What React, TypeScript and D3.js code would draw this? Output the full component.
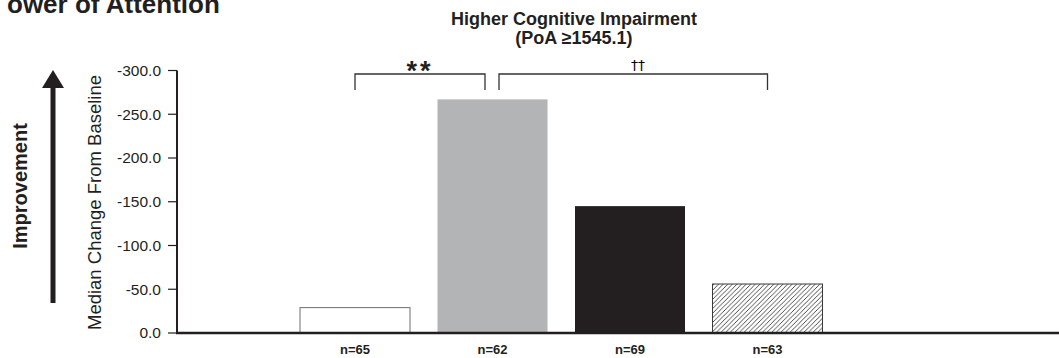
import React from "react";
import * as d3 from "d3";

const categories = ["A", "B", "C", "D"];
const values = [29, 267, 145, 56];
const nLabels = ["n=65", "n=62", "n=69", "n=63"];
const tickValues = [0, 50, 100, 150, 200, 250, 300];
const fills = ["#ffffff", "#b3b4b6", "#231f20", "url(#hatch)"];
const strokes = ["#6d6e70", "none", "none", "#3a3a3a"];

const W = 1059;
const H = 358;
const dark = "#231f20";
const font = "'Liberation Sans', Arial, Helvetica, sans-serif";

export default function App() {
  const x = d3
    .scaleBand<string>()
    .domain(categories)
    .range([286.25, 836.25])
    .paddingInner(0.2)
    .paddingOuter(0.1);
  const y = d3.scaleLinear().domain([0, 300]).range([333, 70.5]);
  const cx = (i: number) => (x(categories[i]) as number) + x.bandwidth() / 2;
  const axisX = 177;

  const brTop = 74;
  const brBot = 90;
  const b1x1 = cx(0);
  const b1x2 = cx(1) - 7.5;
  const b2x1 = cx(1) + 6.5;
  const b2x2 = cx(3);

  return (
    <svg
      width={W}
      height={H}
      style={{ position: "absolute", left: 0, top: 0, background: "#fff" }}
      fontFamily={font}
    >
      <defs>
        <pattern id="hatch" patternUnits="userSpaceOnUse" width={4.6} height={4.6}>
          <rect width={4.6} height={4.6} fill="#fff" />
          <path d="M-1,1 L1,-1 M0,4.6 L4.6,0 M3.6,5.6 L5.6,3.6" stroke="#3a3a3a" strokeWidth={0.9} />
        </pattern>
      </defs>

      <text x={7} y={13} fontSize={26} fontWeight="bold" fill={dark}>
        ower of Attention
      </text>

      <text x={574} y={25} fontSize={18} fontWeight="bold" textAnchor="middle" fill={dark}>
        Higher Cognitive Impairment
      </text>
      <text x={574} y={44} fontSize={18} fontWeight="bold" textAnchor="middle" fill={dark}>
        (PoA ≥1545.1)
      </text>

      {/* Improvement arrow */}
      <rect x={50.5} y={86} width={5} height={217} fill={dark} />
      <path d="M42,88 L64,88 L53,70 Z" fill={dark} />
      <text
        transform="translate(26.5,186) rotate(-90)"
        fontSize={20}
        fontWeight="bold"
        textAnchor="middle"
        fill={dark}
      >
        Improvement
      </text>

      <text
        transform="translate(101,202.5) rotate(-90)"
        fontSize={18.5}
        textAnchor="middle"
        fill={dark}
      >
        Median Change From Baseline
      </text>

      {/* bars */}
      {values.map((v, i) => (
        <rect
          key={i}
          x={x(categories[i])}
          y={y(v)}
          width={x.bandwidth()}
          height={y(0) - y(v)}
          fill={fills[i]}
          stroke={strokes[i]}
          strokeWidth={1}
        />
      ))}

      {/* y axis */}
      <line x1={axisX} x2={axisX} y1={y(300)} y2={y(0)} stroke={dark} strokeWidth={2} />
      {tickValues.map((t) => (
        <g key={t}>
          <line x1={168} x2={axisX} y1={y(t)} y2={y(t)} stroke={dark} strokeWidth={1.2} />
          <text x={161} y={y(t)} dy="0.35em" fontSize={15.5} textAnchor="end" fill={dark}>
            {t === 0 ? "0.0" : `-${t.toFixed(1)}`}
          </text>
        </g>
      ))}
      {/* x axis */}
      <line x1={axisX - 1} x2={W} y1={y(0)} y2={y(0)} stroke={dark} strokeWidth={2.5} />

      {nLabels.map((n, i) => (
        <text key={n} x={cx(i)} y={354} fontSize={13} fontWeight="bold" textAnchor="middle" fill={dark}>
          {n}
        </text>
      ))}

      {/* significance brackets */}
      <path
        d={`M${b1x1},${brBot} L${b1x1},${brTop} L${b1x2},${brTop} L${b1x2},${brBot}`}
        fill="none"
        stroke="#333"
        strokeWidth={1.3}
      />
      <path
        d={`M${b2x1},${brBot} L${b2x1},${brTop} L${b2x2},${brTop} L${b2x2},${brBot}`}
        fill="none"
        stroke="#333"
        strokeWidth={1.3}
      />
      <text x={420} y={80} fontSize={27} fontWeight="bold" textAnchor="middle" letterSpacing={3} fill={dark}>
        **
      </text>
      <text x={638} y={69.5} fontSize={14} textAnchor="middle" fill="#000" fontFamily="'DejaVu Sans', sans-serif">
        {"\u2020\u2020"}
      </text>
    </svg>
  );
}
